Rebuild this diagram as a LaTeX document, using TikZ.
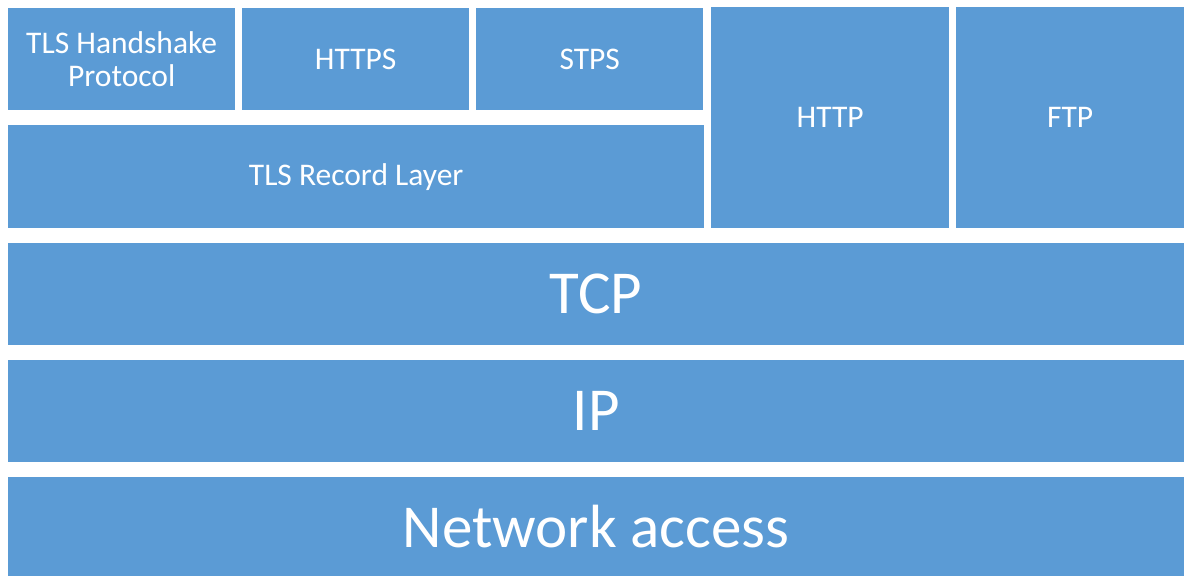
\documentclass[tikz,border=0pt]{standalone}
\usepackage{fontspec}
\setmainfont{Carlito}
\definecolor{boxblue}{HTML}{5B9BD5}
\tikzset{
  layer/.style = {fill=boxblue, text=white, inner sep=0pt, anchor=north west, align=center},
  small/.style = {font=\fontsize{31.5}{33}\selectfont},
  big/.style = {font=\fontsize{61}{66}\selectfont}
}
\begin{document}
\begin{tikzpicture}[x=1pt,y=-1pt]
  \useasboundingbox (0,0) rectangle (1186,576);
  % secure protocols on top of the record layer
  \foreach \n/\x/\t in {hs/8/{TLS Handshake\\Protocol},https/242/HTTPS,stps/476/STPS}{
    \node[layer,small,minimum width=227pt,minimum height=102pt] (\n) at (\x,8) {\t};
  }
  \node[layer,small,minimum width=696pt,minimum height=103pt] (record) at (8,125) {TLS Record Layer};
  % plain application protocols
  \node[layer,small,minimum width=238pt,minimum height=221pt] (http) at (711,7) {HTTP};
  \node[layer,small,minimum width=228pt,minimum height=221pt] (ftp) at (956,7) {FTP};
  % lower layers
  \foreach \n/\y/\t in {tcp/243/TCP,ip/360/IP}{
    \node[layer,big,minimum width=1176pt,minimum height=102pt] (\n) at (8,\y) {\t};
  }
  \node[layer,big,minimum width=1176pt,minimum height=99pt] (net) at (8,477) {Network access};
\end{tikzpicture}
\end{document}
